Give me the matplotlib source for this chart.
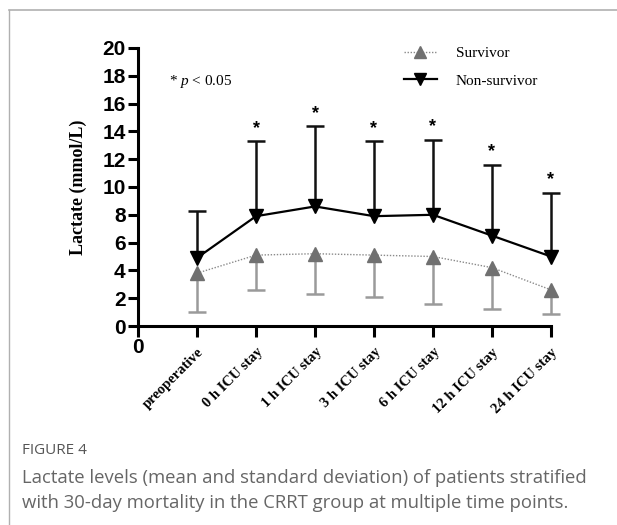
import matplotlib
matplotlib.use("Agg")
import matplotlib.pyplot as plt
from matplotlib.lines import Line2D

# data
timepoints = ["preoperative", "0 h ICU stay", "1 h ICU stay", "3 h ICU stay",
              "6 h ICU stay", "12 h ICU stay", "24 h ICU stay"]
survivor_mean = [3.8, 5.1, 5.2, 5.1, 5.0, 4.2, 2.6]
survivor_sd = [2.8, 2.5, 2.9, 3.0, 3.4, 3.0, 1.7]
nonsurv_mean = [4.9, 7.9, 8.6, 7.9, 8.0, 6.5, 5.0]
nonsurv_sd = [3.4, 5.4, 5.8, 5.4, 5.4, 5.1, 4.6]
significant = [False, True, True, True, True, True, True]

SERIF = "Liberation Serif"
SANS = "Liberation Sans"
plt.rcParams["mathtext.fontset"] = "custom"
plt.rcParams["mathtext.rm"] = SERIF
plt.rcParams["mathtext.it"] = SERIF + ":italic"

fig = plt.figure(figsize=(6.17, 5.25), dpi=100)
ax = fig.add_axes([0.2237, 0.379, 0.6693, 0.5297])

x = list(range(1, len(timepoints) + 1))

# survivor: lower error bars only
surv_low = [m - s for m, s in zip(survivor_mean, survivor_sd)]
ax.vlines(x, surv_low, survivor_mean, color="#9a9a9a", linewidth=1.8,
          zorder=2, clip_on=False)
ax.plot(x, surv_low, linestyle="none", marker="_", markersize=13,
        markeredgewidth=1.8, color="#9a9a9a", zorder=2, clip_on=False)
ax.plot(x, survivor_mean, color="#8a8a8a", linestyle=(0, (1, 1.2)), linewidth=1.0,
        marker="^", markersize=10, markerfacecolor="#707070",
        markeredgecolor="#707070", zorder=3, clip_on=False)

# non-survivor: upper error bars only
ns_high = [m + s for m, s in zip(nonsurv_mean, nonsurv_sd)]
ax.vlines(x, nonsurv_mean, ns_high, color="#111111", linewidth=1.8,
          zorder=2, clip_on=False)
ax.plot(x, ns_high, linestyle="none", marker="_", markersize=13,
        markeredgewidth=1.8, color="#111111", zorder=2, clip_on=False)
ax.plot(x, nonsurv_mean, color="black", linewidth=1.6, marker="v",
        markersize=10, zorder=4, clip_on=False)

for xi, top, sig in zip(x, ns_high, significant):
    if sig:
        ax.text(xi, top + 0.3, "*", ha="center", va="bottom",
                fontsize=13, fontweight="bold", family=SANS)

ax.text(0.52, 17.6, "* $p$ < 0.05", fontsize=11, family=SERIF,
        ha="left", va="center")

ax.set_xlim(0, 7)
ax.set_ylim(0, 20)
ax.set_yticks(range(0, 21, 2))
ax.set_xticks([0] + x)
ax.set_xticklabels([""] + timepoints)
ax.text(0, -0.85, "0", ha="center", va="top", fontsize=15,
        fontweight="bold", family=SANS)

for lab in ax.get_yticklabels():
    lab.set_fontfamily(SANS)
    lab.set_fontweight("bold")
    lab.set_fontsize(15)
for lab in ax.get_xticklabels():
    lab.set_fontfamily(SERIF)
    lab.set_fontweight("bold")
    lab.set_fontsize(10.5)
    lab.set_rotation(45)
    lab.set_ha("right")
    lab.set_va("top")
    lab.set_rotation_mode("anchor")

ax.tick_params(axis="y", length=7, width=2.2, pad=2)
ax.tick_params(axis="x", length=8, width=2.2, pad=6)
for side in ["top", "right"]:
    ax.spines[side].set_visible(False)
for side in ["left", "bottom"]:
    ax.spines[side].set_linewidth(2.2)
ax.patch.set_alpha(0)

ax.set_ylabel("Lactate (mmol/L)", fontsize=13, fontweight="bold",
              family=SERIF, labelpad=11)

handles = [
    Line2D([], [], color="#8a8a8a", linestyle=(0, (1, 1.2)), linewidth=1.0,
           marker="^", markersize=9, markerfacecolor="#707070",
           markeredgecolor="#707070"),
    Line2D([], [], color="black", linewidth=1.6, marker="v", markersize=9),
]
ax.legend(handles, ["Survivor", "Non-survivor"], loc="upper left",
          bbox_to_anchor=(0.61, 1.055), frameon=False, handlelength=2.2,
          handletextpad=1.2, labelspacing=0.9,
          prop={"family": SERIF, "size": 11})

# caption
fig.text(0.036, 0.142, "FIGURE 4", fontsize=11, color="#555555",
         family="Open Sans", va="center")
fig.text(0.036, 0.089, "Lactate levels (mean and standard deviation) of patients stratified",
         fontsize=13.3, color="#666666", family="Open Sans", va="center")
fig.text(0.036, 0.041, "with 30-day mortality in the CRRT group at multiple time points.",
         fontsize=13.3, color="#666666", family="Open Sans", va="center")

# frame lines
fig.add_artist(Line2D([9 / 617, 1], [1 - 10 / 525, 1 - 10 / 525],
                      color="#b0b0b0", linewidth=1.2))
fig.add_artist(Line2D([9 / 617, 9 / 617], [0, 1 - 10 / 525],
                      color="#b0b0b0", linewidth=1.0))

fig.savefig("out.png", dpi=100)
